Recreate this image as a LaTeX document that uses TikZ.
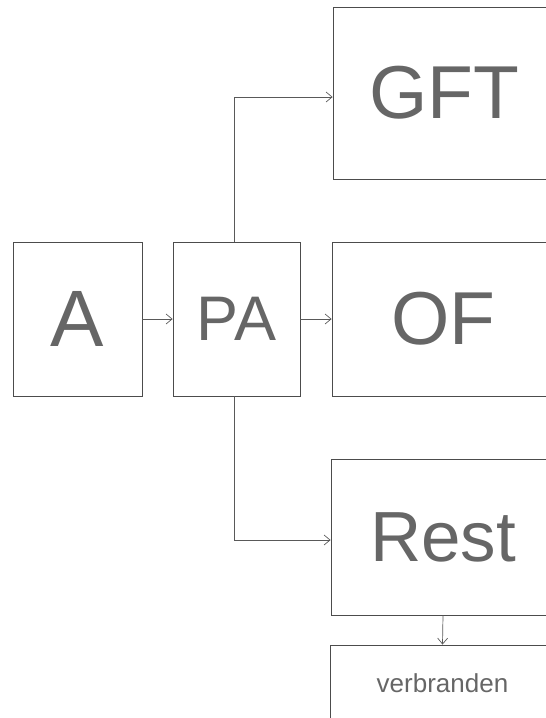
\documentclass[tikz,border=0pt]{standalone}
\usepackage{fontspec}
\setmainfont{Liberation Sans}
\usetikzlibrary{arrows.meta}
\begin{document}
\begin{tikzpicture}[x=1pt,y=-1pt,
  box/.style={draw=black!70,line width=0.8pt,rectangle,inner sep=0pt,text=black!60},
  flow/.style={draw=black!65,line width=0.7pt,-{Straight Barb[length=6pt,width=10pt]}}]
  \useasboundingbox (0,0) rectangle (546,718);
  \node[box,minimum width=129pt,minimum height=154pt,font=\fontsize{80}{80}\selectfont] (A) at (77.5,319) {A};
  \node[box,minimum width=127pt,minimum height=154pt,font=\fontsize{63}{63}\selectfont] (PA) at (236.5,319) {PA};
  \node[box,minimum width=222pt,minimum height=172pt,font=\fontsize{75}{75}\selectfont] (GFT) at (444,93) {GFT};
  \node[box,minimum width=223pt,minimum height=154pt,font=\fontsize{75}{75}\selectfont] (OF) at (443.5,319) {OF};
  \node[box,minimum width=224pt,minimum height=156pt,font=\fontsize{71}{71}\selectfont] (Rest) at (443,537) {Rest};
  \node[box,minimum width=225pt,minimum height=77pt,font=\fontsize{26}{26}\selectfont] (verb) at (442.5,683.5) {verbranden};
  \draw[flow] (A) -- (PA);
  \draw[flow] (PA) -- (OF);
  \draw[flow] ([xshift=-2pt]PA.north) |- ([yshift=-4pt]GFT.west);
  \draw[flow] ([xshift=-2pt]PA.south) |- ([yshift=-3pt]Rest.west);
  \draw[flow] (Rest.south) -- (verb.north);
\end{tikzpicture}
\end{document}
